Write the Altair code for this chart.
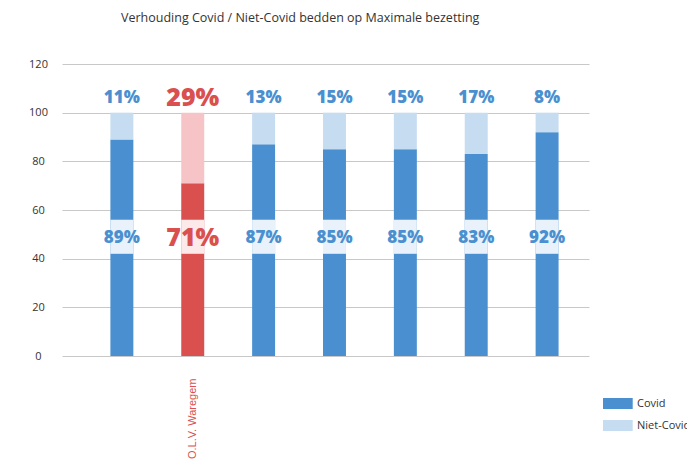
import altair as alt
import pandas as pd

hospitals = ["H1", "O.L.V. Waregem", "H3", "H4", "H5", "H6", "H7"]
covid = [89, 71, 87, 85, 85, 83, 92]
niet_covid = [11, 29, 13, 15, 15, 17, 8]
types = ["Covid", "Niet-Covid"]
highlight = "O.L.V. Waregem"

rows = []
for h, c, n in zip(hospitals, covid, niet_covid):
    rows.append({"hospital": h, "type": "Covid", "value": c, "ord": 0})
    rows.append({"hospital": h, "type": "Niet-Covid", "value": n, "ord": 1})
df = pd.DataFrame(rows)

BLUE = "#4a90d0"
LIGHT_BLUE = "#c6dcf0"
RED = "#d9504f"
PINK = "#f6c4c6"
FONT = "Open Sans"
NUMFONT = "Open Sans"

is_hl = f"datum.hospital == '{highlight}'"

x = alt.X(
    "hospital:N",
    sort=hospitals,
    scale=alt.Scale(paddingInner=0.676, paddingOuter=0.556, align=0.614),
    axis=alt.Axis(
        title=None, ticks=False, domain=False, labelAngle=-90,
        labelColor=RED, labelFont="Liberation Sans", labelFontSize=11,
        labelPadding=22,
        labelExpr=f"datum.value == '{highlight}' ? datum.value : ''",
    ),
)

bars = alt.Chart(df).mark_bar().encode(
    x=x,
    y=alt.Y(
        "value:Q", stack="zero",
        scale=alt.Scale(domain=[0, 120], nice=False),
        axis=alt.Axis(
            title=None, values=[0, 20, 40, 60, 80, 100, 120], ticks=False,
            domain=False, gridColor="#c8c8c8", gridWidth=1,
            labelAlign="center", labelPadding=24, labelColor="#333333",
            labelFont=FONT, labelFontSize=11,
        ),
    ),
    color=alt.Color(
        "type:N",
        scale=alt.Scale(domain=types, range=[BLUE, LIGHT_BLUE]),
        legend=alt.Legend(
            title=None, orient="none", legendX=541, legendY=334,
            symbolType="M-1,-1L4.4,-1L4.4,1L-1,1Z", symbolSize=121,
            symbolStrokeWidth=0, labelOffset=23, rowPadding=10,
            labelFont=FONT, labelFontSize=11, labelColor="#333333",
            padding=0,
        ),
        condition=[
            {"test": f"{is_hl} && datum.type == 'Covid'", "value": RED},
            {"test": f"{is_hl} && datum.type == 'Niet-Covid'", "value": PINK},
        ],
    ),
    order=alt.Order("ord:Q"),
)

band = alt.Chart(df).transform_filter("datum.type == 'Covid'").mark_bar(
    color="white", opacity=0.88
).encode(
    x=x,
    y=alt.datum(42),
    y2=alt.datum(56),
)

bottom_labels = alt.Chart(df).transform_filter("datum.type == 'Covid'").transform_calculate(
    label="datum.value + '%'"
).mark_text(font=NUMFONT, fontWeight=800, baseline="middle").encode(
    x=x,
    y=alt.datum(48.5),
    text="label:N",
    color=alt.condition(is_hl, alt.value(RED), alt.value(BLUE)),
    size=alt.condition(is_hl, alt.value(25), alt.value(17)),
)

top_labels = alt.Chart(df).transform_filter("datum.type == 'Niet-Covid'").transform_calculate(
    label="datum.value + '%'"
).mark_text(font=NUMFONT, fontWeight=800, baseline="middle").encode(
    x=x,
    y=alt.datum(106),
    text="label:N",
    color=alt.condition(is_hl, alt.value(RED), alt.value(BLUE)),
    size=alt.condition(is_hl, alt.value(25), alt.value(17)),
)

chart = alt.layer(bars, band, bottom_labels, top_labels).properties(
    width=527,
    height=292,
    autosize=alt.AutoSizeParams(type="none"),
    padding={"left": 62, "top": 64, "right": 98, "bottom": 112},
    title=alt.TitleParams(
        "Verhouding Covid / Niet-Covid bedden op Maximale bezetting",
        font=FONT, fontSize=12.5, fontWeight="normal", color="#333333",
        anchor="start", frame="group", dx=59, offset=34,
    ),
).configure_view(stroke=None)

chart.save("out.html", embed_options={"renderer": "svg", "actions": False})
